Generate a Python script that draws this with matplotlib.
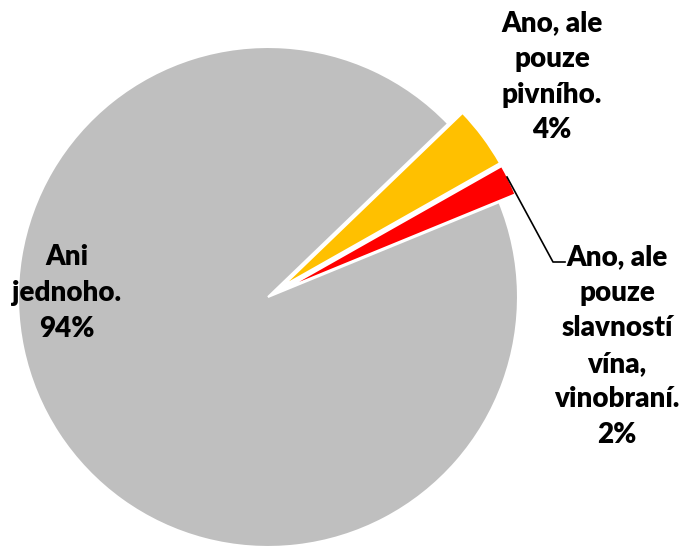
import matplotlib
matplotlib.use("Agg")
import matplotlib.pyplot as plt

categories = ["Ano, ale\npouze\nslavností\nvína,\nvinobraní.", "Ano, ale\npouze\npivního.", "Ani\njednoho."]
values = [2, 4, 94]
colors = ["#FF0000", "#FFC000", "#BFBFBF"]
explode = [18, 18, 0]

W, H = 683, 547
fig = plt.figure(figsize=(W / 100, H / 100), dpi=100)
ax = fig.add_axes([0, 0, 1, 1])
ax.set_xlim(0, W)
ax.set_ylim(0, H)

cx, cy, r = 268, H - 297, 250
ax.pie(values, colors=colors, explode=explode, startangle=22.3, counterclock=True,
       center=(cx, cy), radius=r, frame=True,
       wedgeprops=dict(edgecolor="white", linewidth=1.5))
ax.set_xlim(0, W)
ax.set_ylim(0, H)
ax.set_aspect("equal")
ax.axis("off")

font = dict(family=["Lato", "DejaVu Sans"], fontweight="heavy", fontsize=20, color="black",
            ha="center", va="center", multialignment="center", linespacing=1.46)

pos = [(617, 346), (552, 77), (67, 293)]
for cat, v, (x, y) in zip(categories, values, pos):
    ax.text(x, H - y, f"{cat}\n{v}%", **font)

# leader line for the 2% label
ax.plot([507, 553, 565], [H - 177, H - 262, H - 262], color="black", linewidth=1.2)

fig.savefig("out.png", dpi=100)
